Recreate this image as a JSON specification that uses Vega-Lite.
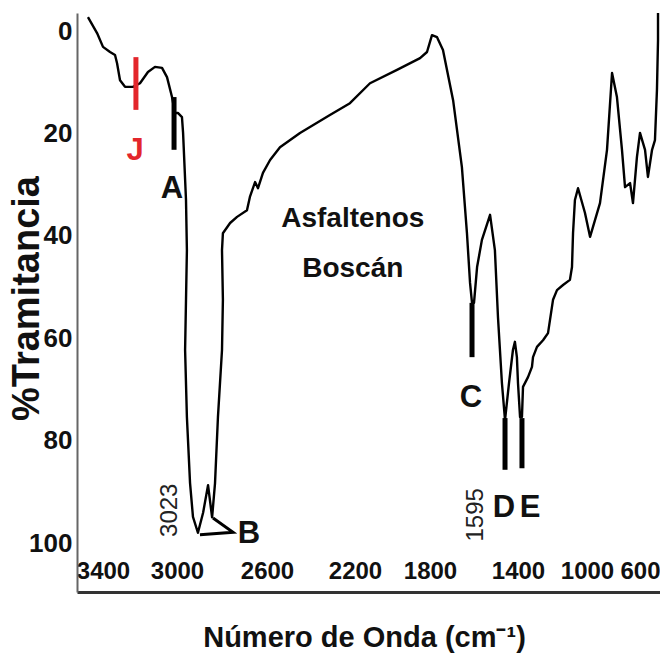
{
  "$schema": "https://vega.github.io/schema/vega-lite/v6.json",
  "width": 583,
  "height": 579,
  "autosize": {"type": "none"},
  "padding": {"left": 77, "top": 13, "right": 0, "bottom": 66},
  "background": "white",
  "config": {"view": {"stroke": null}, "font": "Liberation Sans"},
  "datasets": {
    "spectrum": [
      {"i": 1, "wn": 3481, "t": -2.7}, {"i": 2, "wn": 3432, "t": 0.4}, {"i": 3, "wn": 3400, "t": 3.1},
      {"i": 4, "wn": 3362, "t": 4.1}, {"i": 5, "wn": 3335, "t": 4.7}, {"i": 6, "wn": 3324, "t": 6.3},
      {"i": 7, "wn": 3308, "t": 9.6}, {"i": 8, "wn": 3281, "t": 10.9}, {"i": 9, "wn": 3238, "t": 10.9},
      {"i": 10, "wn": 3200, "t": 10.2}, {"i": 11, "wn": 3157, "t": 8.0}, {"i": 12, "wn": 3119, "t": 7.0},
      {"i": 13, "wn": 3081, "t": 7.2}, {"i": 14, "wn": 3054, "t": 9.0}, {"i": 15, "wn": 3027, "t": 12.9},
      {"i": 16, "wn": 3011, "t": 16.0}, {"i": 17, "wn": 2996, "t": 16.0}, {"i": 18, "wn": 2978, "t": 16.8},
      {"i": 19, "wn": 2973, "t": 19.9}, {"i": 20, "wn": 2960, "t": 33.0}, {"i": 21, "wn": 2956, "t": 42.8},
      {"i": 22, "wn": 2964, "t": 62.3}, {"i": 23, "wn": 2956, "t": 75.4}, {"i": 24, "wn": 2942, "t": 88.3},
      {"i": 25, "wn": 2929, "t": 94.9}, {"i": 26, "wn": 2907, "t": 98.0}, {"i": 27, "wn": 2884, "t": 94.1},
      {"i": 28, "wn": 2862, "t": 88.7}, {"i": 29, "wn": 2844, "t": 95.0}, {"i": 30, "wn": 2831, "t": 88.3},
      {"i": 31, "wn": 2818, "t": 75.4}, {"i": 32, "wn": 2800, "t": 62.3}, {"i": 33, "wn": 2796, "t": 52.5},
      {"i": 34, "wn": 2800, "t": 42.8}, {"i": 35, "wn": 2796, "t": 39.5}, {"i": 36, "wn": 2764, "t": 37.5},
      {"i": 37, "wn": 2733, "t": 36.3}, {"i": 38, "wn": 2689, "t": 35.0}, {"i": 39, "wn": 2676, "t": 32.4},
      {"i": 40, "wn": 2653, "t": 29.5}, {"i": 41, "wn": 2640, "t": 30.7}, {"i": 42, "wn": 2618, "t": 27.7},
      {"i": 43, "wn": 2586, "t": 25.2}, {"i": 44, "wn": 2541, "t": 22.7}, {"i": 45, "wn": 2450, "t": 19.9},
      {"i": 46, "wn": 2314, "t": 16.4}, {"i": 47, "wn": 2223, "t": 14.1}, {"i": 48, "wn": 2120, "t": 10.2},
      {"i": 49, "wn": 1976, "t": 7.6}, {"i": 50, "wn": 1853, "t": 5.3}, {"i": 51, "wn": 1816, "t": 4.1},
      {"i": 52, "wn": 1791, "t": 0.8}, {"i": 53, "wn": 1768, "t": 1.2}, {"i": 54, "wn": 1741, "t": 3.7},
      {"i": 55, "wn": 1695, "t": 13.5}, {"i": 56, "wn": 1655, "t": 26.6}, {"i": 57, "wn": 1632, "t": 39.5},
      {"i": 58, "wn": 1618, "t": 49.2}, {"i": 59, "wn": 1609, "t": 53.1}, {"i": 60, "wn": 1600, "t": 53.1},
      {"i": 61, "wn": 1586, "t": 46.1}, {"i": 62, "wn": 1564, "t": 40.8}, {"i": 63, "wn": 1527, "t": 35.9},
      {"i": 64, "wn": 1505, "t": 42.8}, {"i": 65, "wn": 1491, "t": 55.9}, {"i": 66, "wn": 1473, "t": 68.8},
      {"i": 67, "wn": 1459, "t": 76.0}, {"i": 68, "wn": 1441, "t": 68.8}, {"i": 69, "wn": 1423, "t": 62.3},
      {"i": 70, "wn": 1414, "t": 60.7}, {"i": 71, "wn": 1405, "t": 63.7}, {"i": 72, "wn": 1400, "t": 68.8},
      {"i": 73, "wn": 1388, "t": 75.4}, {"i": 74, "wn": 1377, "t": 75.4}, {"i": 75, "wn": 1371, "t": 69.5},
      {"i": 76, "wn": 1342, "t": 67.6}, {"i": 77, "wn": 1319, "t": 65.6}, {"i": 78, "wn": 1313, "t": 63.7},
      {"i": 79, "wn": 1290, "t": 61.7}, {"i": 80, "wn": 1255, "t": 60.4}, {"i": 81, "wn": 1226, "t": 59.0},
      {"i": 82, "wn": 1197, "t": 52.5}, {"i": 83, "wn": 1174, "t": 50.6}, {"i": 84, "wn": 1139, "t": 49.6},
      {"i": 85, "wn": 1099, "t": 48.6}, {"i": 86, "wn": 1087, "t": 46.1}, {"i": 87, "wn": 1081, "t": 39.5},
      {"i": 88, "wn": 1070, "t": 33.0}, {"i": 89, "wn": 1052, "t": 30.7}, {"i": 90, "wn": 1012, "t": 35.5},
      {"i": 91, "wn": 977, "t": 40.2}, {"i": 92, "wn": 902, "t": 33.6}, {"i": 93, "wn": 849, "t": 23.2},
      {"i": 94, "wn": 811, "t": 8.2}, {"i": 95, "wn": 774, "t": 12.9}, {"i": 96, "wn": 736, "t": 23.2},
      {"i": 97, "wn": 713, "t": 30.5}, {"i": 98, "wn": 675, "t": 29.7}, {"i": 99, "wn": 653, "t": 33.6},
      {"i": 100, "wn": 623, "t": 24.6}, {"i": 101, "wn": 600, "t": 19.9}, {"i": 102, "wn": 562, "t": 23.2},
      {"i": 103, "wn": 540, "t": 28.5}, {"i": 104, "wn": 509, "t": 23.2}, {"i": 105, "wn": 487, "t": 21.3},
      {"i": 106, "wn": 472, "t": 11.5}, {"i": 107, "wn": 464, "t": 1.8}, {"i": 108, "wn": 464, "t": -3.5}
    ],
    "flag": [
      {"i": 1, "wn": 2840, "t": 95.1}, {"i": 2, "wn": 2751, "t": 97.9}, {"i": 3, "wn": 2898, "t": 98.4}
    ],
    "bars": [
      {"wn": 3222, "t1": 5.1, "t2": 15.4, "c": "#e3262b"},
      {"wn": 3016, "t1": 12.9, "t2": 23.2, "c": "#000000"},
      {"wn": 1609, "t1": 53.1, "t2": 63.7, "c": "#000000"},
      {"wn": 1459, "t1": 75.6, "t2": 85.7, "c": "#000000"},
      {"wn": 1377, "t1": 75.6, "t2": 85.4, "c": "#000000"}
    ],
    "letters": [
      {"txt": "J", "wn": 3227, "t": 25.2, "c": "#e3262b"},
      {"txt": "A", "wn": 3027, "t": 32.6, "c": "#111111"},
      {"txt": "B", "wn": 2680, "t": 100.0, "c": "#111111"},
      {"txt": "C", "wn": 1614, "t": 73.4, "c": "#111111"},
      {"txt": "D", "wn": 1464, "t": 94.9, "c": "#111111"},
      {"txt": "E", "wn": 1330, "t": 94.9, "c": "#111111"}
    ],
    "names": [
      {"txt": "Asfaltenos", "wn": 2210, "t": 38.3},
      {"txt": "Boscán", "wn": 2210, "t": 48.0}
    ],
    "peaks": [
      {"txt": "3023", "wn": 3038, "t": 93.6},
      {"txt": "1595", "wn": 1591, "t": 94.5}
    ]
  },
  "layer": [
    {
      "data": {"name": "spectrum"},
      "mark": {"type": "line", "color": "#000000", "strokeWidth": 2.4, "strokeJoin": "round"},
      "encoding": {
        "x": {
          "field": "wn", "type": "quantitative",
          "scale": {"domain": [3540, 3400, 3000, 2600, 2200, 1800, 1400, 1000, 600, 449], "range": [0, 26, 100, 190, 278, 353, 441, 510, 563, 583], "nice": false, "zero": false},
          "axis": {
            "values": [3400, 3000, 2600, 2200, 1800, 1400, 1000, 600], "format": "d",
            "ticks": false, "grid": false, "labelFlush": false, "labelOverlap": false,
            "labelFont": "Liberation Sans", "labelFontWeight": "bold", "labelFontSize": 24, "labelColor": "#111111",
            "labelBaseline": "middle", "labelPadding": -21,
            "domainColor": "#333333", "domainWidth": 3,
            "title": "Número de Onda (cm⁻¹)", "titleFont": "Liberation Sans", "titleFontSize": 29, "titleFontWeight": "bold", "titleColor": "#111111",
            "titleBaseline": "alphabetic", "titleY": 54, "titleX": 287
          }
        },
        "y": {
          "field": "t", "type": "quantitative",
          "scale": {"domain": [-3.52, 109.57], "reverse": true, "nice": false, "zero": false},
          "axis": {
            "values": [0, 20, 40, 60, 80, 100],
            "ticks": false, "grid": false, "labelFlush": false, "labelOverlap": false,
            "labelFont": "Liberation Sans", "labelFontWeight": "bold", "labelFontSize": 26, "labelColor": "#111111",
            "labelBaseline": "middle", "labelPadding": 5,
            "domainColor": "#666666", "domainWidth": 2,
            "title": "%Tramitancia", "titleFont": "Liberation Sans", "titleFontSize": 38, "titleFontWeight": "bold", "titleColor": "#111111",
            "titleAngle": 270, "titleBaseline": "middle", "titleAlign": "center", "titleX": -50, "titleY": 285
          }
        },
        "order": {"field": "i", "type": "quantitative"}
      }
    },
    {
      "data": {"name": "flag"},
      "mark": {"type": "line", "color": "#000000", "strokeWidth": 3, "strokeJoin": "miter"},
      "encoding": {
        "x": {"field": "wn", "type": "quantitative"},
        "y": {"field": "t", "type": "quantitative"},
        "order": {"field": "i", "type": "quantitative"}
      }
    },
    {
      "mark": {"type": "rule", "color": "#555555", "strokeWidth": 3},
      "encoding": {"y": {"datum": -3.3}}
    },
    {
      "mark": {"type": "rule", "color": "#444444", "strokeWidth": 1.5},
      "encoding": {"y": {"datum": 101.4}}
    },
    {
      "data": {"name": "bars"},
      "mark": {"type": "rule", "strokeWidth": 5, "strokeCap": "butt"},
      "encoding": {
        "x": {"field": "wn", "type": "quantitative"},
        "y": {"field": "t1", "type": "quantitative"},
        "y2": {"field": "t2"},
        "color": {"field": "c", "type": "nominal", "scale": null}
      }
    },
    {
      "data": {"name": "letters"},
      "mark": {"type": "text", "font": "Liberation Sans", "fontWeight": "bold", "fontSize": 31, "align": "center", "baseline": "alphabetic"},
      "encoding": {
        "x": {"field": "wn", "type": "quantitative"},
        "y": {"field": "t", "type": "quantitative"},
        "text": {"field": "txt"},
        "color": {"field": "c", "type": "nominal", "scale": null}
      }
    },
    {
      "data": {"name": "names"},
      "mark": {"type": "text", "font": "Liberation Sans", "fontWeight": "bold", "fontSize": 28, "align": "center", "baseline": "alphabetic", "color": "#111111"},
      "encoding": {
        "x": {"field": "wn", "type": "quantitative"},
        "y": {"field": "t", "type": "quantitative"},
        "text": {"field": "txt"}
      }
    },
    {
      "data": {"name": "peaks"},
      "mark": {"type": "text", "font": "Liberation Sans", "fontSize": 24, "align": "center", "baseline": "middle", "angle": 270, "color": "#222222"},
      "encoding": {
        "x": {"field": "wn", "type": "quantitative"},
        "y": {"field": "t", "type": "quantitative"},
        "text": {"field": "txt"}
      }
    }
  ]
}
